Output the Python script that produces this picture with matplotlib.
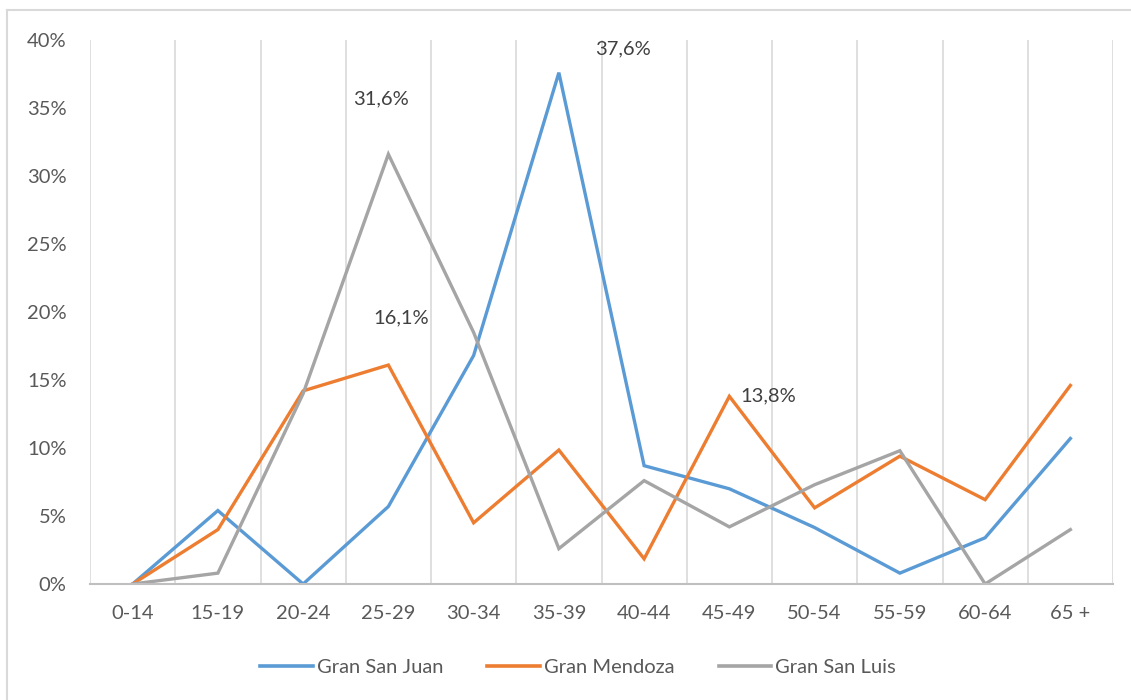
import matplotlib.pyplot as plt
from matplotlib.lines import Line2D

# Datos por grupo de edad
grupos = ['0-14', '15-19', '20-24', '25-29', '30-34', '35-39',
          '40-44', '45-49', '50-54', '55-59', '60-64', '65 +']
san_juan = [0.0, 5.4, 0.0, 5.7, 16.8, 37.6, 8.7, 7.0, 4.15, 0.8, 3.4, 10.7]
mendoza = [0.0, 4.0, 14.2, 16.1, 4.5, 9.85, 1.85, 13.8, 5.6, 9.4, 6.2, 14.6]
san_luis = [0.0, 0.8, 14.0, 31.6, 18.5, 2.6, 7.6, 4.2, 7.3, 9.8, 0.0, 4.0]
y_ticks = [0, 5, 10, 15, 20, 25, 30, 35, 40]

plt.rcParams['font.family'] = ['Lato', 'DejaVu Sans']
texto = '#595959'
fs = 14.5

fig = plt.figure(figsize=(11.31, 7.0), dpi=100)
ax = fig.add_axes([90 / 1131, 116 / 700, 1023 / 1131, 544 / 700])

x = list(range(len(grupos)))
ax.plot(x, san_juan, color='#5B9BD5', lw=2.4, label='Gran San Juan', solid_joinstyle='miter')
ax.plot(x, mendoza, color='#ED7D31', lw=2.4, label='Gran Mendoza', solid_joinstyle='miter')
ax.plot(x, san_luis, color='#A5A5A5', lw=2.4, label='Gran San Luis', solid_joinstyle='miter')

# lineas verticales entre categorias
for b in range(len(grupos) + 1):
    ax.axvline(b - 0.5, color='#d9d9d9', lw=1.2, zorder=0)

ax.set_xlim(-0.5, len(grupos) - 0.5)
ax.set_ylim(0, 40)
ax.set_xticks(x)
ax.set_xticklabels(grupos)
ax.set_yticks(y_ticks)
ax.set_yticklabels([f'{v}%' for v in y_ticks])
ax.tick_params(length=0, labelsize=fs, colors=texto)
ax.tick_params(axis='x', pad=15)
ax.tick_params(axis='y', pad=17)
for s in ['top', 'right', 'left']:
    ax.spines[s].set_visible(False)
ax.spines['bottom'].set_color('#bfbfbf')
ax.spines['bottom'].set_linewidth(1.5)

# etiquetas de datos
etiquetas = [(3, san_luis[3], -5, 40), (5, san_juan[5], 46, 17),
             (3, mendoza[3], 9, 34), (7, mendoza[7], 28, 0)]
for i, v, dx, dy in etiquetas:
    ax.annotate(f'{v:.1f}%'.replace('.', ','), (i, v), xytext=(dx, dy),
                textcoords='offset points', ha='center', va='center',
                fontsize=fs, color='#404040')

handles = [Line2D([], [], color=c, lw=2.6) for c in ['#5B9BD5', '#ED7D31', '#A5A5A5']]
fig.legend(handles, ['Gran San Juan', 'Gran Mendoza', 'Gran San Luis'],
           loc='center', bbox_to_anchor=(578 / 1131, 1 - 667 / 700), ncol=3,
           frameon=False, fontsize=fs, labelcolor=texto, handlelength=2.6,
           handletextpad=0.2, columnspacing=2.2)

# borde exterior
fig.add_artist(Line2D([7 / 1131, 7 / 1131], [0, 690 / 700], color='#d9d9d9', lw=1.5))
fig.add_artist(Line2D([7 / 1131, 1], [690 / 700, 690 / 700], color='#d9d9d9', lw=1.5))

fig.savefig('out.png', dpi=100)
